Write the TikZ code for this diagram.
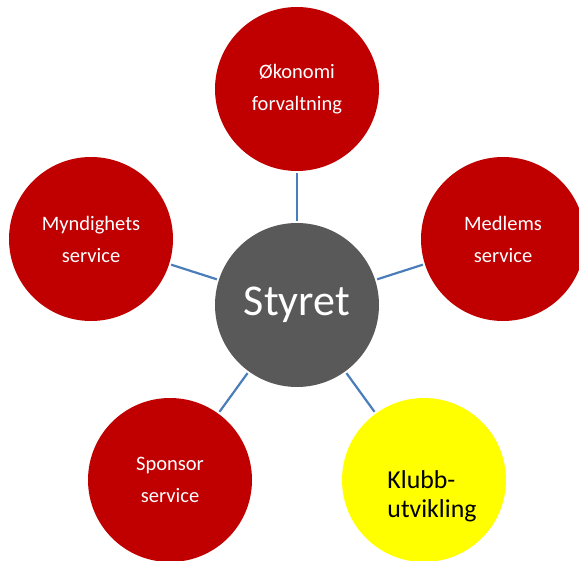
\documentclass[tikz,border=0pt]{standalone}
\usepackage{fontspec}
\setmainfont{Carlito}
\definecolor{cred}{HTML}{C00000}
\definecolor{cgray}{HTML}{595959}
\definecolor{cyel}{HTML}{FFFF00}
\definecolor{cline}{HTML}{4A7EBB}
\begin{document}
\begin{tikzpicture}[x=1pt,y=-1pt,
  circ/.style={circle, minimum size=164pt, inner sep=0pt, align=center},
  redc/.style={circ, fill=cred, text=white, font=\fontsize{20.5}{32}\selectfont},
  conn/.style={draw=cline, line width=2.2pt, shorten <=2pt, shorten >=2pt}]
\clip (0,0) rectangle (579,561);
\fill[white] (0,0) rectangle (579,561);
\node[circ, fill=cgray, text=white, font=\fontsize{44}{50}\selectfont] (s) at (297,305) {\raisebox{-3pt}{Styret}};
\node[redc] (o) at (297,89) {Økonomi\\forvaltning};
\node[redc] (m) at (503,239) {Medlems\\service};
\node[redc] (y) at (91,239) {Myndighets\\service};
\node[redc] (p) at (170,480) {Sponsor\\service};
\node[circ, fill=cyel] (k) at (424,480) {};
\node[align=left, font=\fontsize{25.8}{29}\selectfont, inner sep=0pt] (kt) at (432,496) {Klubb-\\utvikling};
\draw[conn] (s) -- (o);
\draw[conn] (s) -- (m);
\draw[conn] (s) -- (y);
\draw[conn] (s) -- (p);
\draw[conn] (s) -- (k);
\end{tikzpicture}
\end{document}
